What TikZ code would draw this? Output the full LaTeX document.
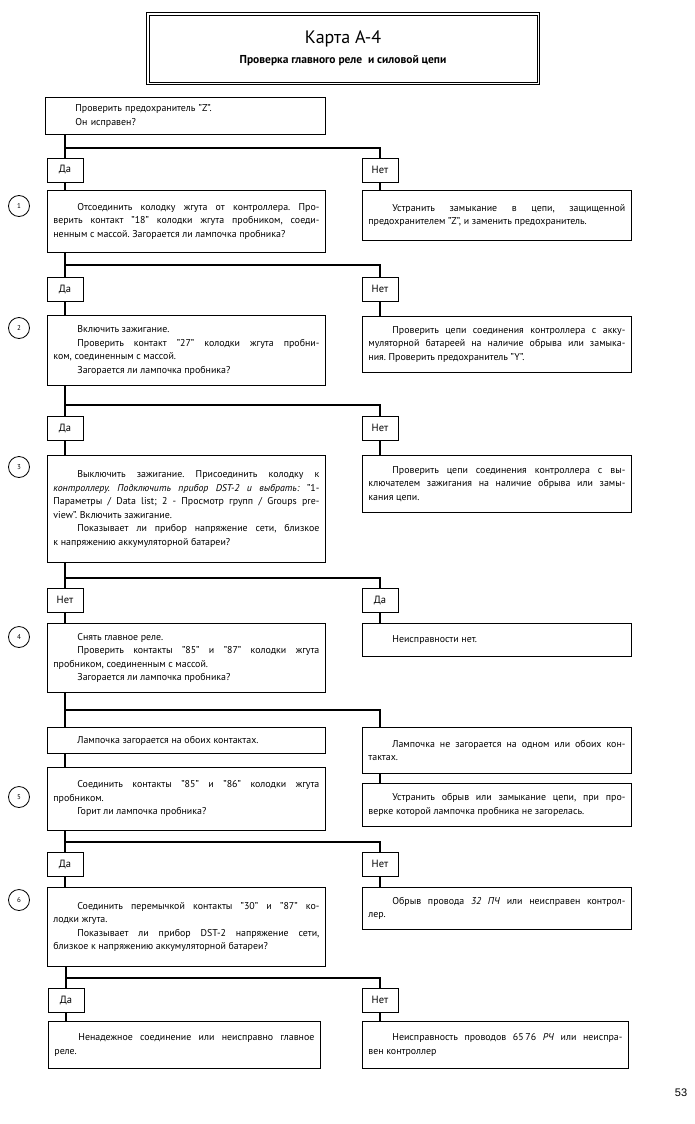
\documentclass[tikz,border=0pt]{standalone}
\usepackage{fontspec}
\setmainfont{PT Sans}
\newfontfamily\pagefont{Liberation Sans}
\setlength{\parindent}{0pt}
\hyphenpenalty=10000
\exhyphenpenalty=10000
\tolerance=10000
\hbadness=10000
\frenchspacing
\newcommand{\pind}{\hspace*{24pt}}
\tikzset{
  conn/.style={line width=2.6pt},
  box/.style={draw, line width=0.8pt, anchor=north west, inner xsep=6pt, inner ysep=3pt,
    align=justify, font=\fontsize{9.9}{13.5}\selectfont\frenchspacing},
  lbox/.style={box, text width=266pt},
  rbox/.style={box, text width=257pt},
  ans/.style={draw, line width=0.8pt, minimum width=36pt, minimum height=24pt, inner sep=1pt,
    font=\fontsize{10.5}{12}\selectfont},
  num/.style={draw, circle, line width=0.8pt, minimum size=21pt, inner sep=0pt,
    font=\fontsize{7}{8}\selectfont},
}
\begin{document}
\begin{tikzpicture}[x=1pt,y=-1pt]
\useasboundingbox (0,0) rectangle (695,1124);

% title
\node[draw, line width=1pt, minimum width=393pt, minimum height=72pt,
  align=center, anchor=north west] (title) at (146,12)
  {{\fontsize{18}{20}\selectfont Карта А-4}\\[8pt]{\fontsize{11.5}{14}\selectfont\bfseries Проверка главного реле\ \ и силовой цепи}};
\draw[line width=0.7pt] ([shift={(3pt,-3pt)}]title.north west) rectangle ([shift={(-3pt,3pt)}]title.south east);

% question 0
\node[box, text width=268pt, minimum height=37pt, align=left] (q0) at (45,97)
  {\pind Проверить предохранитель "Z".\\\pind Он исправен?};

% row 1
\node[ans] (da1) at (65,170) {Да};
\node[ans] (net1) at (380,170) {Нет};
\node[lbox, minimum height=62pt] (b1) at (47,190)
  {\pind Отсоединить колодку жгута от контроллера. Про-\linebreak верить контакт "18" колодки жгута пробником, соеди-\linebreak ненным с массой. Загорается ли лампочка пробника?};
\node[rbox, minimum height=50pt] (r1) at (362,190)
  {\pind Устранить замыкание в цепи, защищенной\linebreak предохранителем "Z", и заменить предохранитель.};
\node[num] (c1) at (19,206) {1};

% row 2
\node[ans] (da2) at (65,289) {Да};
\node[ans] (net2) at (380,289) {Нет};
\node[lbox, minimum height=70pt] (b2) at (47,315)
  {\pind Включить зажигание.\par\pind Проверить контакт "27" колодки жгута пробни-\linebreak ком, соединенным с массой.\par\pind Загорается ли лампочка пробника?};
\node[rbox, minimum height=56pt] (r2) at (362,316)
  {\pind Проверить цепи соединения контроллера с акку-\linebreak муляторной батареей на наличие обрыва или замыка-\linebreak ния. Проверить предохранитель "Y".};
\node[num] (c2) at (19,328) {2};

% row 3
\node[ans] (da3) at (65,428) {Да};
\node[ans] (net3) at (380,428) {Нет};
\node[lbox, minimum height=107pt] (b3) at (47,455)
  {\pind Выключить зажигание. Присоединить колодку к\linebreak \textit{контроллеру. Подключить прибор DST-2 и выбрать:} "1-\linebreak Параметры / Data list; 2 - Просмотр групп / Groups pre-\linebreak view". Включить зажигание.\par\pind Показывает ли прибор напряжение сети, близкое\linebreak к напряжению аккумуляторной батареи?};
\node[rbox, minimum height=57pt] (r3) at (362,455)
  {\pind Проверить цепи соединения контроллера с вы-\linebreak ключателем зажигания на наличие обрыва или замы-\linebreak кания цепи.};
\node[num] (c3) at (19,467) {3};

% row 4
\node[ans] (net4) at (65,600) {Нет};
\node[ans] (da4) at (380,600) {Да};
\node[lbox, minimum height=69pt] (b4) at (47,623)
  {\pind Снять главное реле.\par\pind Проверить контакты "85" и "87" колодки жгута\linebreak пробником, соединенным с массой.\par\pind Загорается ли лампочка пробника?};
\node[rbox, minimum height=33pt] (r4) at (362,623)
  {\pind Неисправности нет.};
\node[num] (c4) at (19,637) {4};

% row 5
\node[lbox, minimum height=26pt] (l5) at (47,727)
  {\pind Лампочка загорается на обоих контактах.};
\node[rbox, minimum height=46pt] (r5a) at (362,727)
  {\pind Лампочка не загорается на одном или обоих кон-\linebreak тактах.};
\node[rbox, minimum height=43pt] (r5b) at (362,783)
  {\pind Устранить обрыв или замыкание цепи, при про-\linebreak верке которой лампочка пробника не загорелась.};
\node[lbox, minimum height=63pt] (b5) at (47,767)
  {\pind Соединить контакты "85" и "86" колодки жгута\linebreak пробником.\par\pind Горит ли лампочка пробника?};
\node[num] (c5) at (19,797) {5};

% row 6
\node[ans] (da6) at (65,864) {Да};
\node[ans] (net6) at (380,864) {Нет};
\node[lbox, minimum height=79pt] (b6) at (47,887)
  {\pind Соединить перемычкой контакты "30" и "87" ко-\linebreak лодки жгута.\par\pind Показывает ли прибор DST-2 напряжение сети,\linebreak близкое к напряжению аккумуляторной батареи?};
\node[rbox, minimum height=42pt] (r6) at (362,887)
  {\pind Обрыв провода \textit{32 ПЧ} или неисправен контрол-\linebreak лер.};
\node[num] (c6) at (19,900) {6};

% row 7
\node[ans] (da7) at (66,1000) {Да};
\node[ans] (net7) at (380,1000) {Нет};
\node[box, text width=260pt, minimum height=47pt] (f1) at (48,1021)
  {\pind Ненадежное соединение или неисправно главное\linebreak реле.};
\node[box, text width=254pt, minimum height=47pt] (f2) at (362,1021)
  {\pind Неисправность проводов 65\,76 \textit{РЧ} или неиспра-\linebreak вен контроллер};

\node[font=\pagefont\fontsize{11}{13}\selectfont] (page) at (681,1093) {53};

% junctions
\coordinate (j1) at (65,148);
\coordinate (j2) at (65,265);
\coordinate (j3) at (65,405);
\coordinate (j4) at (65,578);
\coordinate (j5) at (65,710);
\coordinate (j6) at (65,842);
\coordinate (j7) at (66,978);

% connectors
\draw[conn] (q0.south -| da1) -- (da1.north);
\draw[conn] (j1) -| (net1.north);
\draw[conn] (da1.south) -- (b1.north -| da1);
\draw[conn] (net1.south) -- (r1.north -| net1);

\draw[conn] (b1.south -| da2) -- (da2.north);
\draw[conn] (j2) -| (net2.north);
\draw[conn] (da2.south) -- (b2.north -| da2);
\draw[conn] (net2.south) -- (r2.north -| net2);

\draw[conn] (b2.south -| da3) -- (da3.north);
\draw[conn] (j3) -| (net3.north);
\draw[conn] (da3.south) -- (b3.north -| da3);
\draw[conn] (net3.south) -- (r3.north -| net3);

\draw[conn] (b3.south -| net4) -- (net4.north);
\draw[conn] (j4) -| (da4.north);
\draw[conn] (net4.south) -- (b4.north -| net4);
\draw[conn] (da4.south) -- (r4.north -| da4);

\draw[conn] (b4.south -| j5) -- (l5.north -| j5);
\draw[conn] (j5) -| (r5a.north -| net3);
\draw[conn] (r5a.south -| net3) -- (r5b.north -| net3);
\draw[conn] (l5.south -| j5) -- (b5.north -| j5);

\draw[conn] (b5.south -| da6) -- (da6.north);
\draw[conn] (j6) -| (net6.north);
\draw[conn] (da6.south) -- (b6.north -| da6);
\draw[conn] (net6.south) -- (r6.north -| net6);

\draw[conn] (b6.south -| da7) -- (da7.north);
\draw[conn] (j7) -| (net7.north);
\draw[conn] (da7.south) -- (f1.north -| da7);
\draw[conn] (net7.south) -- (f2.north -| net7);
\end{tikzpicture}
\end{document}
